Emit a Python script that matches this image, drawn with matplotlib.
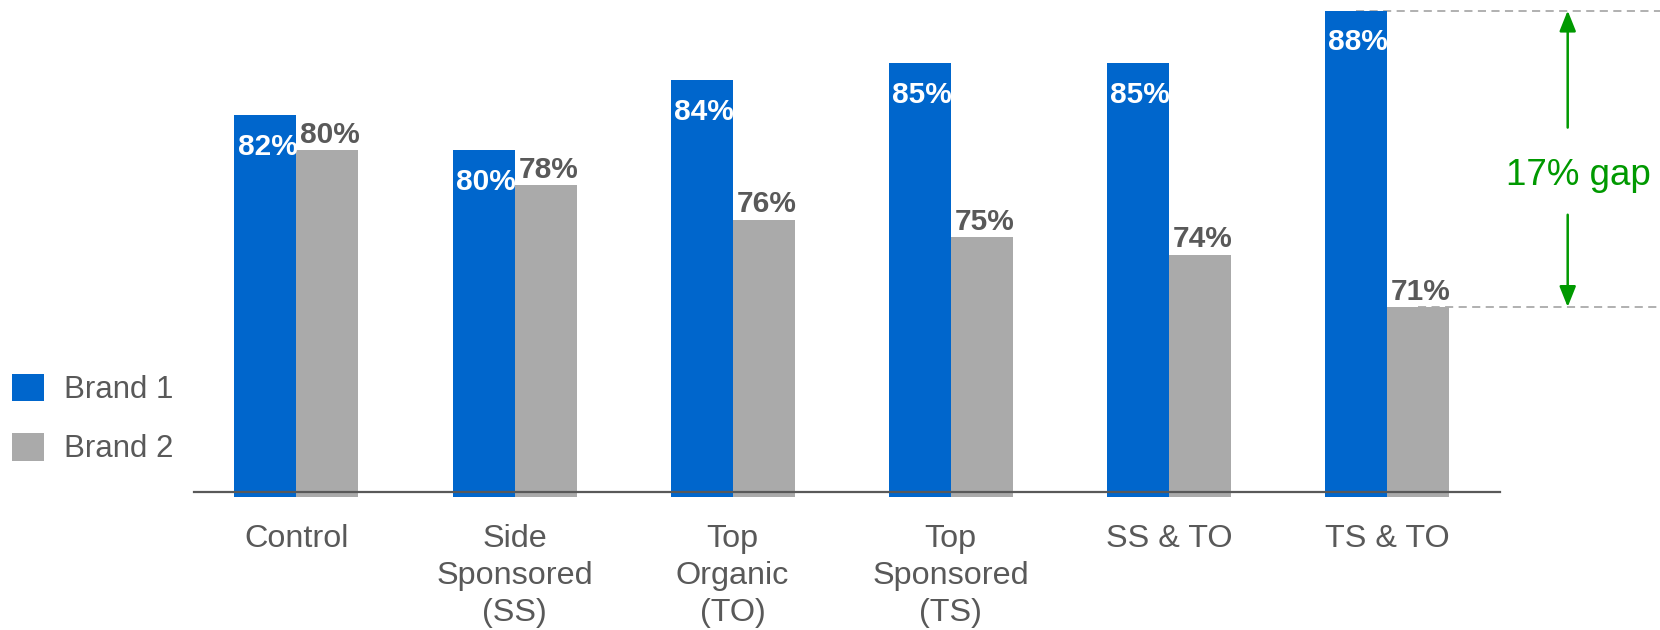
import matplotlib
matplotlib.use("Agg")
import matplotlib.pyplot as plt
import numpy as np
from matplotlib.patches import Patch

plt.rcParams['font.family'] = ['Liberation Sans', 'DejaVu Sans']

categories = ["Control", "Side\nSponsored\n(SS)", "Top\nOrganic\n(TO)",
              "Top\nSponsored\n(TS)", "SS & TO", "TS & TO"]
brand1 = [82, 80, 84, 85, 85, 88]
brand2 = [80, 78, 76, 75, 74, 71]
series_names = ["Brand 1", "Brand 2"]

BLUE = "#0066CC"
GREY = "#AAAAAA"
TEXT = "#595959"
GREEN = "#009900"

W, H = 1660, 630
fig = plt.figure(figsize=(W / 100, H / 100), dpi=100)

# axes geometry in pixels
ax_left, ax_right = 193.7, 1500.2
ax_bottom_px, ax_top_px = 492.3, 10.6
ax = fig.add_axes([ax_left / W, 1 - ax_bottom_px / H,
                   (ax_right - ax_left) / W, (ax_bottom_px - ax_top_px) / H])

group_px = 218.1
x = np.arange(len(categories))
width = 62 / group_px
y0 = 60.37

ax.bar(x - width / 2, np.array(brand1) - y0 + 0.25, width, bottom=y0 - 0.25,
       color=BLUE, label=series_names[0], clip_on=False, zorder=2)
ax.bar(x + width / 2, np.array(brand2) - y0 + 0.25, width, bottom=y0 - 0.25,
       color=GREY, label=series_names[1], clip_on=False, zorder=2)

ax.set_xlim(-102.7 / group_px, (ax_right - ax_left - 102.7) / group_px)
ax.set_ylim(y0, 88)

for s in ["top", "right", "left"]:
    ax.spines[s].set_visible(False)
ax.spines["bottom"].set_color(TEXT)
ax.spines["bottom"].set_linewidth(1.6)
ax.spines["bottom"].set_zorder(3)
ax.set_yticks([])
ax.set_xticks(x)
ax.set_xticklabels(categories, fontsize=23.3, color=TEXT, linespacing=1.32)
ax.tick_params(axis="x", length=0, pad=22.5)

# value labels
for xi, v in zip(x, brand1):
    ax.annotate(f"{v}%", (xi - width / 2, v), xytext=(1.5, -22.8),
                textcoords="offset points", ha="center", va="center",
                fontsize=21.5, fontweight="bold", color="white", zorder=4)
for xi, v in zip(x, brand2):
    ax.annotate(f"{v}%", (xi + width / 2, v), xytext=(2, 1),
                textcoords="offset points", ha="center", va="bottom",
                fontsize=21.5, fontweight="bold", color=TEXT, zorder=4)

# gap marker on the last group
last = len(categories) - 1
hi, lo = brand1[last], brand2[last]
x_edge = (W - ax_left - 102.7) / group_px
ax.plot([x[last] - width / 2, x_edge], [hi, hi], ls=(0, (4.5, 3)),
        color=GREY, lw=1.3, clip_on=False, zorder=1)
ax.plot([x[last] + width / 2, x_edge], [lo, lo], ls=(0, (4.5, 3)),
        color=GREY, lw=1.3, clip_on=False, zorder=1)
xa = (1567.7 - ax_left - 102.7) / group_px
xt = (1578.7 - ax_left - 102.7) / group_px
head = "-|>,head_length=1.25,head_width=0.5"
ax.annotate("", xy=(xa, hi), xytext=(xa, 81.29),
            arrowprops=dict(arrowstyle=head, color=GREEN, lw=1.8,
                            shrinkA=0, shrinkB=0),
            annotation_clip=False)
ax.annotate("", xy=(xa, lo), xytext=(xa, 76.29),
            arrowprops=dict(arrowstyle=head, color=GREEN, lw=1.8,
                            shrinkA=0, shrinkB=0),
            annotation_clip=False)
ax.text(xt, 78.0, f"{hi - lo}% gap", ha="center", va="baseline",
        fontsize=26.5, color=GREEN, clip_on=False)

handles = [Patch(facecolor=BLUE), Patch(facecolor=GREY)]
fig.legend(handles, series_names, loc="center left",
           bbox_to_anchor=(-0.002, 0.335), frameon=False, fontsize=22.5,
           labelcolor=TEXT, handlelength=1.0, handleheight=1.0,
           handletextpad=0.65, labelspacing=0.88, borderpad=0.0)

fig.savefig("out.png", dpi=100)
